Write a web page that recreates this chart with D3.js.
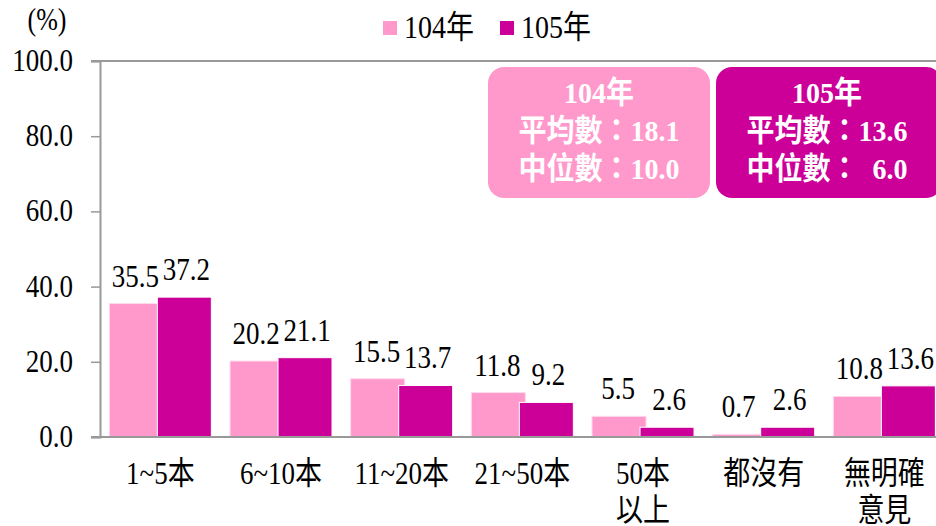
<!DOCTYPE html>
<html>
<head>
<meta charset="utf-8">
<script src="https://cdn.jsdelivr.net/npm/d3@7"></script>
<style>
  html, body { margin: 0; padding: 0; background: #fff; }
  svg { display: block; }
  text { font-family: 'Liberation Serif', 'Noto Sans CJK TC', serif; }
</style>
</head>
<body>
<svg id="chart" width="936" height="526"></svg>
<script>
// Number of books: share of respondents (%), two survey years
const categories = ["1~5本", "6~10本", "11~20本", "21~50本", "50本\n以上", "都沒有", "無明確\n意見"];
const seriesNames = ["104年", "105年"];
const values104 = [35.5, 20.2, 15.5, 11.8, 5.5, 0.7, 10.8];
const values105 = [37.2, 21.1, 13.7, 9.2, 2.6, 2.6, 13.6];
const yTicks = [0, 20, 40, 60, 80, 100];
// Summary boxes: mean / median per year
const summaryTitles = ["104年", "105年"];
const summaryMeans = ["18.1", "13.6"];
const summaryMedians = ["10.0", "  6.0"];

const colors = ["#ff99cc", "#cc0099"];
const svg = d3.select("#chart");
const plotLeft = 100, plotTop = 61, plotBottom = 437;
const stretch = 1.18;

const x = d3.scaleBand().domain(categories).range([plotLeft, 944.7]).padding(0);
const y = d3.scaleLinear().domain([0, 100]).range([plotBottom, plotTop]);

// stretched text helper
function label(g, px, py, str, opts = {}) {
  return g.append("text")
    .attr("transform", `translate(${px},${py}) scale(1,${opts.sy || stretch})`)
    .attr("text-anchor", opts.anchor || "middle")
    .attr("font-size", opts.size || 27)
    .attr("font-weight", opts.weight || "normal")
    .attr("fill", opts.fill || "#000")
    .style("white-space", "pre")
    .text(str);
}

// top border of the plot area
svg.append("line").attr("x1", 91).attr("x2", 936).attr("y1", y(100)).attr("y2", y(100))
  .attr("stroke", "#999").attr("stroke-width", 2);

// bars
const barW = 54;
const groups = svg.append("g");
categories.forEach((c, i) => {
  const cx = x(c) + x.bandwidth() / 2;
  [values104[i], values105[i]].forEach((v, s) => {
    const bx = s === 0 ? cx - 51 : cx - 3;
    groups.append("rect")
      .attr("x", bx).attr("y", y(v))
      .attr("width", barW).attr("height", y(0) - y(v))
      .attr("fill", colors[s])
      .attr("stroke", s === 0 ? "#ffd9ec" : "#fff").attr("stroke-width", 1);
  });
});

// value labels
categories.forEach((c, i) => {
  const cx = x(c) + x.bandwidth() / 2;
  label(svg, cx - 25, y(values104[i]) - 17, values104[i].toFixed(1));
  label(svg, cx + 26, y(values105[i]) - 17, values105[i].toFixed(1));
});

// y axis
const yAxis = svg.append("g").attr("transform", `translate(${plotLeft},0)`)
  .call(d3.axisLeft(y).tickValues(yTicks).tickSize(9).tickFormat(""));
yAxis.select(".domain").attr("stroke", "#999").attr("stroke-width", 2);
yAxis.selectAll(".tick line").attr("stroke", "#999").attr("stroke-width", 1.5);
yTicks.forEach(t => label(svg, 73, y(t) + 10, t.toFixed(1), { anchor: "end" }));
label(svg, 47, 30, "(%)", { size: 26 });

// x axis
const xAxis = svg.append("g").attr("transform", `translate(0,${plotBottom})`)
  .call(d3.axisBottom(x).tickSize(0).tickFormat(""));
xAxis.select(".domain").attr("stroke", "#999").attr("stroke-width", 2).attr("d", "M91,0H936");
categories.forEach(c => {
  const cx = x(c) + x.bandwidth() / 2;
  c.split("\n").forEach((line, k) => label(svg, cx, 484 + k * 37, line));
});

// legend
const legendX = [383, 500];
seriesNames.forEach((n, s) => {
  svg.append("rect").attr("x", legendX[s]).attr("y", 21).attr("width", 14).attr("height", 14)
    .attr("fill", colors[s]);
  label(svg, legendX[s] + 21, 38, n, { anchor: "start", size: 28, sy: 1.12 });
});

// summary boxes
const boxX = [488, 716], boxW = [222, 226];
summaryTitles.forEach((t, s) => {
  svg.append("rect").attr("x", boxX[s]).attr("y", 67).attr("width", boxW[s]).attr("height", 131)
    .attr("rx", 16).attr("fill", colors[s]);
  const cx = boxX[s] + 111;
  const o = { size: 28, weight: "bold", fill: "#fff", sy: 1.08 };
  label(svg, cx, 103, t, o);
  label(svg, cx, 141, "平均數：" + summaryMeans[s], o);
  label(svg, cx, 179, "中位數：" + summaryMedians[s], o);
});
</script>
</body>
</html>
